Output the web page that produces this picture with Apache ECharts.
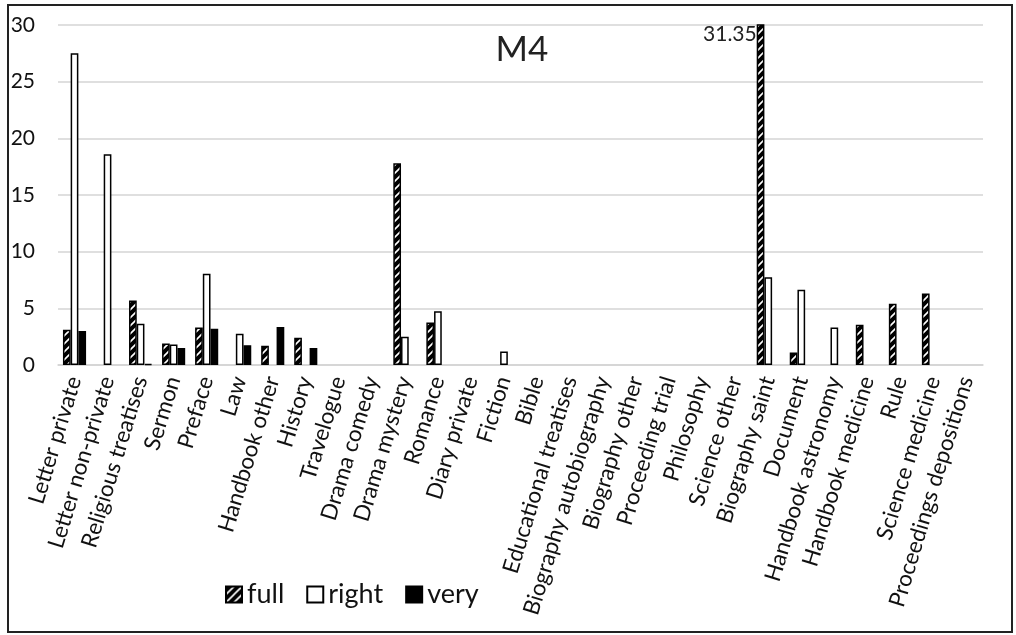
<!DOCTYPE html>
<html>
<head>
<meta charset="utf-8">
<script src="https://cdn.jsdelivr.net/npm/echarts@6/dist/echarts.min.js"></script>
<style>
html,body{margin:0;padding:0;background:#fff;}
#chart{width:1016px;height:635px;}
</style>
</head>
<body>
<div id="chart"></div>
<script>
const categories = ["Letter private","Letter non-private","Religious treatises","Sermon","Preface","Law","Handbook other","History","Travelogue","Drama comedy","Drama mystery","Romance","Diary private","Fiction","Bible","Educational treatises","Biography autobiography","Biography other","Proceeding trial","Philosophy","Science other","Biography saint","Document","Handbook astronomy","Handbook medicine","Rule","Science medicine","Proceedings depositions"];
const full  = [3.1, null, 5.7, 1.9, 3.3, null, 1.7, 2.4, null, null, 17.8, 3.75, null, null, null, null, null, null, null, null, null, 31.35, 1.1, null, 3.55, 5.4, 6.3, null];
const right = [27.5, 18.6, 3.65, 1.8, 8.05, 2.75, null, null, null, null, 2.5, 4.75, null, 1.2, null, null, null, null, null, null, null, 7.75, 6.65, 3.3, null, null, null, null];
const very  = [3.0, null, 0.1, 1.5, 3.2, 1.75, 3.35, 1.5, null, null, null, null, null, null, null, null, null, null, null, null, null, null, null, null, null, null, null, null];
const yTicks = [0, 5, 10, 15, 20, 25, 30];
const title = "M4";

const FONT = "Lato, 'Open Sans', sans-serif";
const yMax = yTicks[yTicks.length - 1];

// hatch pattern for "full"
const pc = document.createElement('canvas');
pc.width = 8; pc.height = 8;
const g = pc.getContext('2d');
g.fillStyle = '#000'; g.fillRect(0, 0, 8, 8);
g.strokeStyle = '#fff'; g.lineWidth = 1.6;
g.beginPath();
g.moveTo(-2, 10); g.lineTo(10, -2);
g.moveTo(-6, 6); g.lineTo(6, -6);
g.moveTo(2, 14); g.lineTo(14, 2);
g.stroke();
const hatch = { image: pc, repeat: 'repeat' };

const chart = echarts.init(document.getElementById('chart'), null, { renderer: 'canvas' });
chart.setOption({
  animation: false,
  backgroundColor: '#fff',
  title: {
    text: title, left: 517, top: 27, textAlign: 'center',
    textStyle: { fontFamily: FONT, fontSize: 35, fontWeight: 'normal', color: '#222' }
  },
  legend: {
    left: 220, top: 576, itemWidth: 16, itemHeight: 16, itemGap: 22, itemTextGap: 5, icon: 'rect',
    textStyle: { fontFamily: FONT, fontSize: 27, color: '#111' },
    data: ['full', 'right', 'very']
  },
  grid: { left: 58, right: 33, top: 25, bottom: 270 },
  xAxis: {
    type: 'category', data: categories,
    axisTick: { show: false },
    axisLine: { lineStyle: { color: '#d4d4d4', width: 1.5 } },
    axisLabel: { interval: 0, rotate: 73, margin: 12, fontFamily: FONT, fontSize: 22.5, color: '#111' }
  },
  yAxis: {
    type: 'value', min: 0, max: yMax, interval: 5,
    axisLine: { show: false }, axisTick: { show: false },
    splitLine: { lineStyle: { color: '#d4d4d4', width: 1.5 } },
    axisLabel: { margin: 23, fontFamily: FONT, fontSize: 21, color: '#111' }
  },
  graphic: [{
    type: 'rect', shape: { x: 8, y: 5, width: 1004, height: 627 },
    style: { fill: 'none', stroke: '#222', lineWidth: 2 }, silent: true, z: 100
  }],
  series: [
    {
      name: 'full', type: 'bar', barGap: '0%', barCategoryGap: '30%',
      itemStyle: { color: hatch, borderColor: '#000', borderWidth: 1.5 },
      data: full.map(v => (v !== null && v > yMax) ? {
        value: v,
        label: { show: true, position: [0, 10], align: 'right', verticalAlign: 'middle',
                 fontFamily: FONT, fontSize: 21, color: '#222' }
      } : v)
    },
    {
      name: 'right', type: 'bar',
      itemStyle: { color: '#fff', borderColor: '#000', borderWidth: 1.5 },
      data: right
    },
    {
      name: 'very', type: 'bar',
      itemStyle: { color: '#000', borderColor: '#000', borderWidth: 1.5 },
      data: very
    }
  ]
});
</script>
</body>
</html>
